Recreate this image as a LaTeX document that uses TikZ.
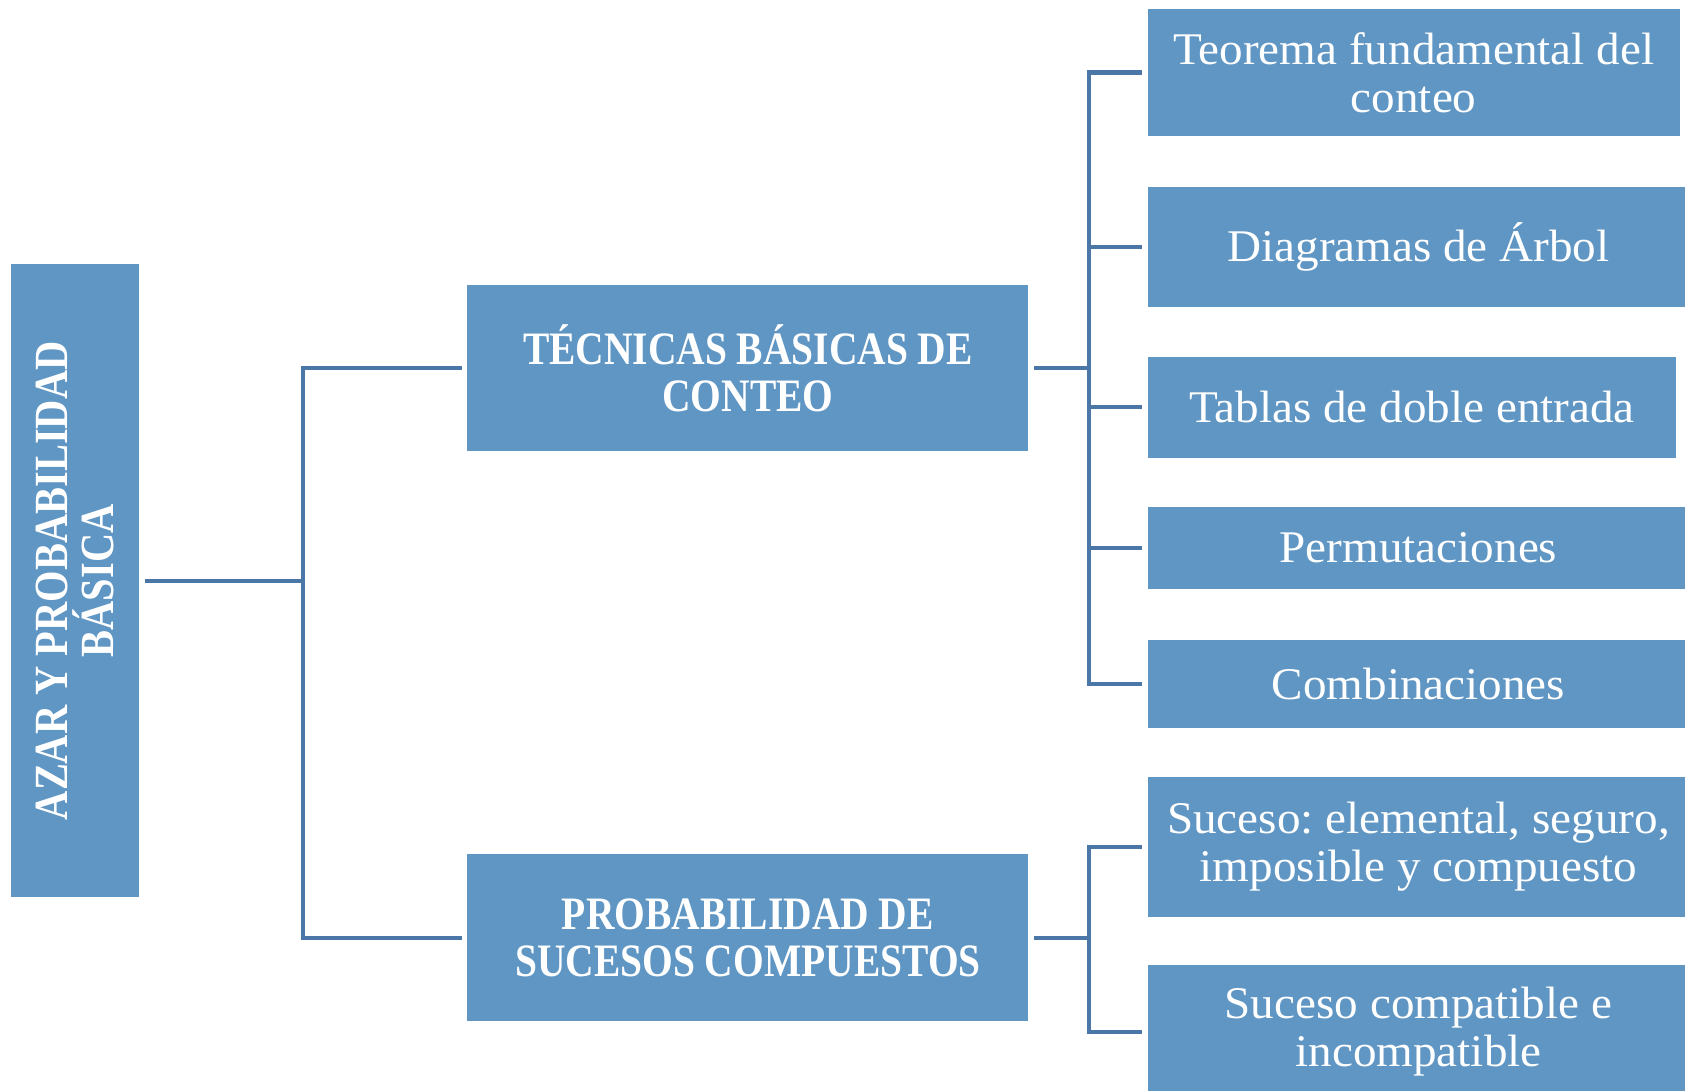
\documentclass[tikz,border=0pt]{standalone}
\usepackage{fontspec}
\setmainfont{Liberation Serif}[FakeStretch=1.04]
\newfontfamily\headfont{Liberation Serif}[FakeStretch=0.85]
\definecolor{boxblue}{RGB}{96,150,196}
\definecolor{lineblue}{RGB}{74,118,168}
\frenchspacing
\begin{document}
\begin{tikzpicture}[x=0.1mm, y=-0.1mm, line width=1.1pt, font=\fontsize{12}{12.6}\selectfont]
\tikzstyle{box} = [rectangle, fill=boxblue, draw=none, text=white, align=center, inner sep=0pt, outer sep=0.55mm]
\tikzstyle{head} = [box, font=\headfont\bfseries\fontsize{12.3}{12.4}\selectfont]
\tikzstyle{link} = [draw=lineblue]
\useasboundingbox (0,0) rectangle (1568,1015);
\node (azar) at (69.5,540.5) [head, rotate=90, minimum width=58.9mm, minimum height=11.9mm, font=\headfont\bfseries\fontsize{12.6}{12.1}\selectfont] {AZAR Y PROBABILIDAD\\BÁSICA};
\node (tec) at (696,342.5) [head, minimum width=52.2mm, minimum height=15.5mm] {TÉCNICAS BÁSICAS DE\\CONTEO};
\node (pro) at (696,872.5) [head, minimum width=52.2mm, minimum height=15.5mm] {PROBABILIDAD DE\\SUCESOS COMPUESTOS};
\node (teo) at (1315.5,67.5) [box, minimum width=49.5mm, minimum height=11.9mm] {Teorema fundamental del\\conteo};
\node (dia) at (1320,230) [box, minimum width=50.4mm, minimum height=11.2mm] {Diagramas de Árbol};
\node (tab) at (1314,379) [box, minimum width=49.2mm, minimum height=9.4mm] {Tablas de doble entrada};
\node (per) at (1320,510) [box, minimum width=50.4mm, minimum height=7.6mm] {Permutaciones};
\node (com) at (1320,636.5) [box, minimum width=50.4mm, minimum height=8.1mm] {Combinaciones};
\node (sel) at (1320,788) [box, minimum width=50.4mm, minimum height=13mm] {Suceso: elemental, seguro,\\imposible y compuesto};
\node (cmp) at (1320,960) [box, minimum width=50.4mm, minimum height=12.4mm] {Suceso compatible e\\incompatible};
\coordinate (jm) at (282,0);
\coordinate (jt) at (1013,0);
\draw [link] (azar) -- (azar -| jm);
\draw [link, line cap=rect] (jm |- tec) -- (jm |- pro);
\foreach \to in {tec, pro}
  \draw [link] (jm |- \to) -- (\to);
\draw [link] (tec) -- (tec -| jt);
\draw [link, line cap=rect] (jt |- teo) -- (jt |- com);
\foreach \to in {teo, dia, tab, per, com}
  \draw [link] (jt |- \to) -- (\to);
\draw [link] (pro) -- (pro -| jt);
\draw [link, line cap=rect] (jt |- sel) -- (jt |- cmp);
\foreach \to in {sel, cmp}
  \draw [link] (jt |- \to) -- (\to);
\end{tikzpicture}
\end{document}
